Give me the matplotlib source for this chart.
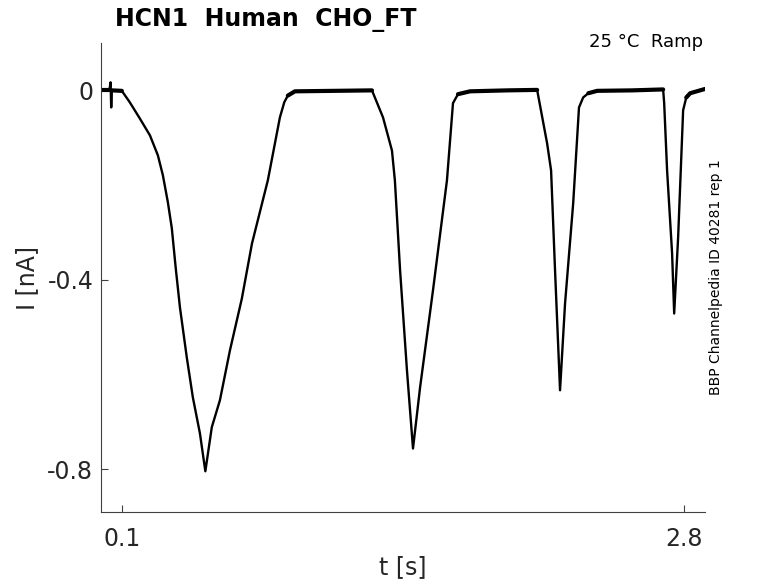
import matplotlib
matplotlib.use("Agg")
import matplotlib.pyplot as plt

# trace (t in s, I in nA)
t = [0.000, 0.040, 0.046, 0.049, 0.052, 0.100, 0.138, 0.186, 0.235, 0.273,
     0.297, 0.321, 0.340, 0.359, 0.379, 0.412, 0.441, 0.475, 0.501, 0.532,
     0.571, 0.619, 0.676, 0.725, 0.753, 0.801, 0.859, 0.880, 0.897, 0.931,
     1.120, 1.301, 1.354, 1.397, 1.411, 1.436, 1.469, 1.498, 1.532, 1.594,
     1.661, 1.690, 1.714, 1.772, 1.950, 2.094, 2.142, 2.161, 2.180, 2.204,
     2.228, 2.267, 2.295, 2.315, 2.340, 2.382, 2.550, 2.699, 2.704, 2.718,
     2.742, 2.752, 2.771, 2.795, 2.810, 2.829, 2.900]
current = [0.000, 0.000, 0.017, -0.036, 0.000, -0.001, -0.025, -0.059, -0.095, -0.137,
           -0.179, -0.236, -0.291, -0.376, -0.458, -0.564, -0.648, -0.724, -0.804, -0.711,
           -0.654, -0.549, -0.440, -0.323, -0.274, -0.190, -0.057, -0.025, -0.011, -0.002,
           -0.001, 0.000, -0.057, -0.127, -0.190, -0.380, -0.591, -0.756, -0.627, -0.422,
           -0.190, -0.027, -0.008, -0.002, 0.000, 0.001, -0.112, -0.169, -0.380, -0.633,
           -0.450, -0.239, -0.036, -0.015, -0.006, -0.001, 0.000, 0.002, -0.027, -0.169,
           -0.344, -0.471, -0.310, -0.042, -0.015, -0.006, 0.003]

# stretches where the recording sits at baseline (noisy, drawn thicker)
flat_spans = [(0.000, 0.040), (0.052, 0.100), (0.897, 1.301), (1.714, 2.094),
              (2.340, 2.699), (2.810, 2.900)]

x_ticks = [0.1, 2.8]
x_tick_labels = ["0.1", "2.8"]
y_ticks = [-0.8, -0.4, 0]
y_tick_labels = ["-0.8", "-0.4", "0"]

AX_COLOR = "#404040"
TXT_COLOR = "#262626"

fig = plt.figure(figsize=(7.78, 5.83), dpi=100)
ax = fig.add_axes([101 / 778, 71 / 583, 604 / 778, 469 / 583])

ax.plot(t, current, color="black", lw=1.7, solid_joinstyle="round")
for lo, hi in flat_spans:
    seg_t = [a for a in t if lo <= a <= hi]
    seg_i = [b for a, b in zip(t, current) if lo <= a <= hi]
    ax.plot(seg_t, seg_i, color="black", lw=3.0, solid_capstyle="round")

ax.set_xlim(0, 2.9)
ax.set_ylim(-0.89, 0.1)
ax.set_xticks(x_ticks)
ax.set_xticklabels(x_tick_labels)
ax.set_yticks(y_ticks)
ax.set_yticklabels(y_tick_labels)
ax.tick_params(direction="in", length=5, width=0.8, colors=AX_COLOR,
               labelcolor=TXT_COLOR, labelsize=17)
ax.tick_params(axis="x", pad=11)
ax.tick_params(axis="y", pad=5.5)

for side in ("top", "right"):
    ax.spines[side].set_visible(False)
for side in ("left", "bottom"):
    ax.spines[side].set_color(AX_COLOR)
    ax.spines[side].set_linewidth(0.8)

ax.set_xlabel("t [s]", fontsize=17, color=TXT_COLOR)
ax.set_ylabel("I [nA]", fontsize=17, color=TXT_COLOR)
ax.xaxis.set_label_coords(0.5, -0.091)
ax.yaxis.set_label_coords(-0.103, 0.5)

fig.text(115 / 778, 1 - 26 / 583, "HCN1  Human  CHO_FT", fontsize=17,
         fontweight="bold", va="baseline", ha="left")
fig.text(703 / 778, 1 - 47 / 583, "25 °C  Ramp", fontsize=13,
         va="baseline", ha="right")
fig.text(716 / 778, 1 - 277 / 583, "BBP Channelpedia ID 40281 rep 1", fontsize=10,
         rotation=90, va="center", ha="center")

fig.savefig("out.png", dpi=100)
